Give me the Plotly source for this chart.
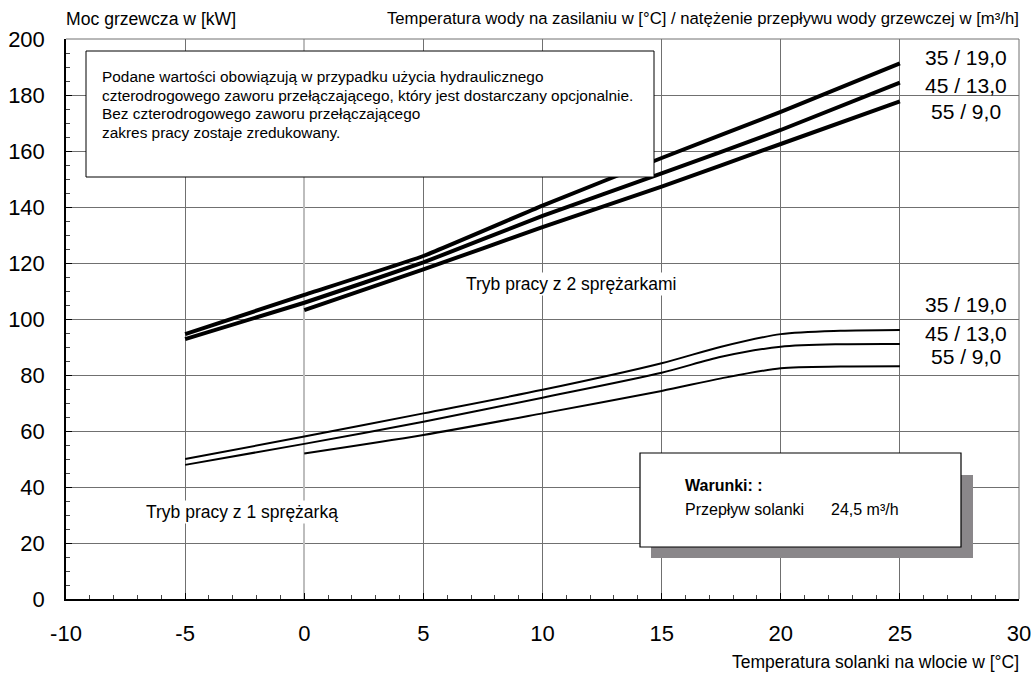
import plotly.graph_objects as go

# Brine inlet temperature [°C]
x_hi = [-5, 0, 5, 10, 15, 20, 25]
x_hi55 = [0, 5, 10, 15, 20, 25]
x_lo = [-5, 0, 5, 10, 15, 17.5, 20, 22.5, 25]
x_lo55 = [0, 5, 10, 15, 17.5, 20, 22.5, 25]

# Heating output [kW] - two compressors
hi_35 = [94.6, 108.6, 122.5, 140.5, 157.5, 174.0, 191.3]
hi_45 = [92.8, 105.8, 120.2, 136.8, 152.0, 167.5, 184.4]
hi_55 = [103.2, 117.7, 132.8, 147.3, 162.5, 177.7]

# Heating output [kW] - one compressor
lo_35 = [50.0, 58.0, 66.3, 74.7, 84.2, 90.1, 94.6, 95.8, 96.1]
lo_45 = [47.9, 55.4, 63.3, 71.9, 80.8, 86.5, 90.1, 91.0, 91.1]
lo_55 = [52.0, 58.6, 66.3, 74.3, 78.8, 82.4, 83.0, 83.1]

series_labels = ["35 / 19,0", "45 / 13,0", "55 / 9,0"]

x_ticks = [-10, -5, 0, 5, 10, 15, 20, 25, 30]
x_ticktext = ["-10", "-5", "0", "5", "10", "15", "20", "25", "30"]
y_ticks = [0, 20, 40, 60, 80, 100, 120, 140, 160, 180, 200]

FONT = "Liberation Sans, Arial, sans-serif"

fig = go.Figure()
for xs, ys, name in [(x_hi, hi_35, series_labels[0]), (x_hi, hi_45, series_labels[1]), (x_hi55, hi_55, series_labels[2])]:
    fig.add_trace(go.Scatter(x=xs, y=ys, mode="lines", name=name,
                             line=dict(color="black", width=4, shape="spline", smoothing=0.3)))
for xs, ys, name in [(x_lo, lo_35, series_labels[0]), (x_lo, lo_45, series_labels[1]), (x_lo55, lo_55, series_labels[2])]:
    fig.add_trace(go.Scatter(x=xs, y=ys, mode="lines", name=name,
                             line=dict(color="black", width=2, shape="spline", smoothing=0.8)))

grid = "#707070"
fig.update_layout(
    width=1035, height=673,
    margin=dict(l=66, r=16, t=39, b=74),
    paper_bgcolor="white", plot_bgcolor="white",
    showlegend=False,
    font=dict(family=FONT, color="black"),
    xaxis=dict(range=[-10, 30], tickvals=x_ticks, ticktext=x_ticktext, automargin=False,
               showgrid=True, gridcolor=grid, gridwidth=1,
               zeroline=True, zerolinecolor="#bdbdbd", zerolinewidth=2,
               showline=True, linecolor="black", linewidth=1.5,
               ticks="inside", ticklen=6, tickcolor="black",
               ticklabelstandoff=14,
               tickfont=dict(size=22, family=FONT),
               minor=dict(dtick=1, tick0=0, ticks="inside", ticklen=4, tickcolor="#444", showgrid=False)),
    yaxis=dict(range=[0, 200], tickvals=y_ticks, automargin=False,
               showgrid=True, gridcolor=grid, gridwidth=1,
               zeroline=False,
               showline=True, linecolor="black", linewidth=1.5,
               ticks="inside", ticklen=6, tickcolor="black",
               ticklabelstandoff=15,
               tickfont=dict(size=22, family=FONT),
               minor=dict(dtick=5, tick0=0, ticks="inside", ticklen=4, tickcolor="#444", showgrid=False)),
)

def px(xp):
    return (xp - 66) / 953

def py(yp):
    return (599 - yp) / 560

shapes = [
    dict(type="line", xref="paper", yref="paper", x0=0, x1=1, y0=1, y1=1, line=dict(color=grid, width=1)),
    dict(type="line", xref="paper", yref="paper", x0=1, x1=1, y0=0, y1=1, line=dict(color=grid, width=1)),
    dict(type="rect", xref="paper", yref="paper", x0=px(86), x1=px(654), y0=py(177), y1=py(51),
         fillcolor="white", line=dict(color="black", width=1), layer="above"),
    dict(type="rect", xref="paper", yref="paper", x0=px(651), x1=px(973), y0=py(558), y1=py(475),
         fillcolor="#8a878a", line=dict(width=0), layer="above"),
    dict(type="rect", xref="paper", yref="paper", x0=px(640), x1=px(961), y0=py(547), y1=py(453),
         fillcolor="white", line=dict(color="black", width=1.2), layer="above"),
]
fig.update_layout(shapes=shapes)

ann = []
note_lines = ["Podane wartości obowiązują w przypadku użycia hydraulicznego",
              "czterodrogowego zaworu przełączającego, który jest dostarczany opcjonalnie.",
              "Bez czterodrogowego zaworu przełączającego",
              "zakres pracy zostaje zredukowany."]
for line, yy in zip(note_lines, [77, 95.5, 114, 132.5]):
    ann.append(dict(xref="paper", yref="paper", x=px(100), y=py(yy), xanchor="left", yanchor="middle",
                    text=line, showarrow=False, font=dict(size=15.4, family=FONT)))
ann.append(dict(xref="paper", yref="paper", x=px(683), y=py(485), xanchor="left", yanchor="middle",
                text="<b>Warunki: :</b>", showarrow=False, font=dict(size=16, family=FONT)))
ann.append(dict(xref="paper", yref="paper", x=px(683), y=py(509), xanchor="left", yanchor="middle",
                text="Przepływ solanki", showarrow=False, font=dict(size=16, family=FONT)))
ann.append(dict(xref="paper", yref="paper", x=px(829), y=py(509), xanchor="left", yanchor="middle",
                text="24,5 m³/h", showarrow=False, font=dict(size=16, family=FONT)))
for lab, yy in zip(series_labels, [57, 85, 112]):
    ann.append(dict(xref="paper", yref="paper", x=px(966), y=py(yy), xanchor="center", yanchor="middle",
                    text=lab, showarrow=False, font=dict(size=21, family=FONT)))
for lab, yy in zip(series_labels, [304, 333, 356]):
    ann.append(dict(xref="paper", yref="paper", x=px(966), y=py(yy), xanchor="center", yanchor="middle",
                    text=lab, showarrow=False, font=dict(size=21, family=FONT)))
ann.append(dict(xref="paper", yref="paper", x=px(571), y=py(284), xanchor="center", yanchor="middle",
                text="Tryb pracy z 2 sprężarkami", showarrow=False, bgcolor="white",
                font=dict(size=17.5, family=FONT)))
ann.append(dict(xref="paper", yref="paper", x=px(242), y=py(512), xanchor="center", yanchor="middle",
                text="Tryb pracy z 1 sprężarką", showarrow=False, bgcolor="white",
                font=dict(size=17.5, family=FONT)))
ann.append(dict(xref="paper", yref="paper", x=px(64), y=py(19), xanchor="left", yanchor="middle",
                text="Moc grzewcza w [kW]", showarrow=False, font=dict(size=17.6, family=FONT)))
ann.append(dict(xref="paper", yref="paper", x=px(1021), y=py(19), xanchor="right", yanchor="middle",
                text="Temperatura wody na zasilaniu w [°C] / natężenie przepływu wody grzewczej w [m³/h]",
                showarrow=False, font=dict(size=16.7, family=FONT)))
ann.append(dict(xref="paper", yref="paper", x=px(1021), y=py(662), xanchor="right", yanchor="middle",
                text="Temperatura solanki na wlocie w [°C]", showarrow=False,
                font=dict(size=17.5, family=FONT)))
fig.update_layout(annotations=ann)

# Let the fixed-size figure fill the window exactly (no default body margin).
fig.write_html("out.html", config={"displayModeBar": False},
               post_script="document.body.style.margin='0';")
